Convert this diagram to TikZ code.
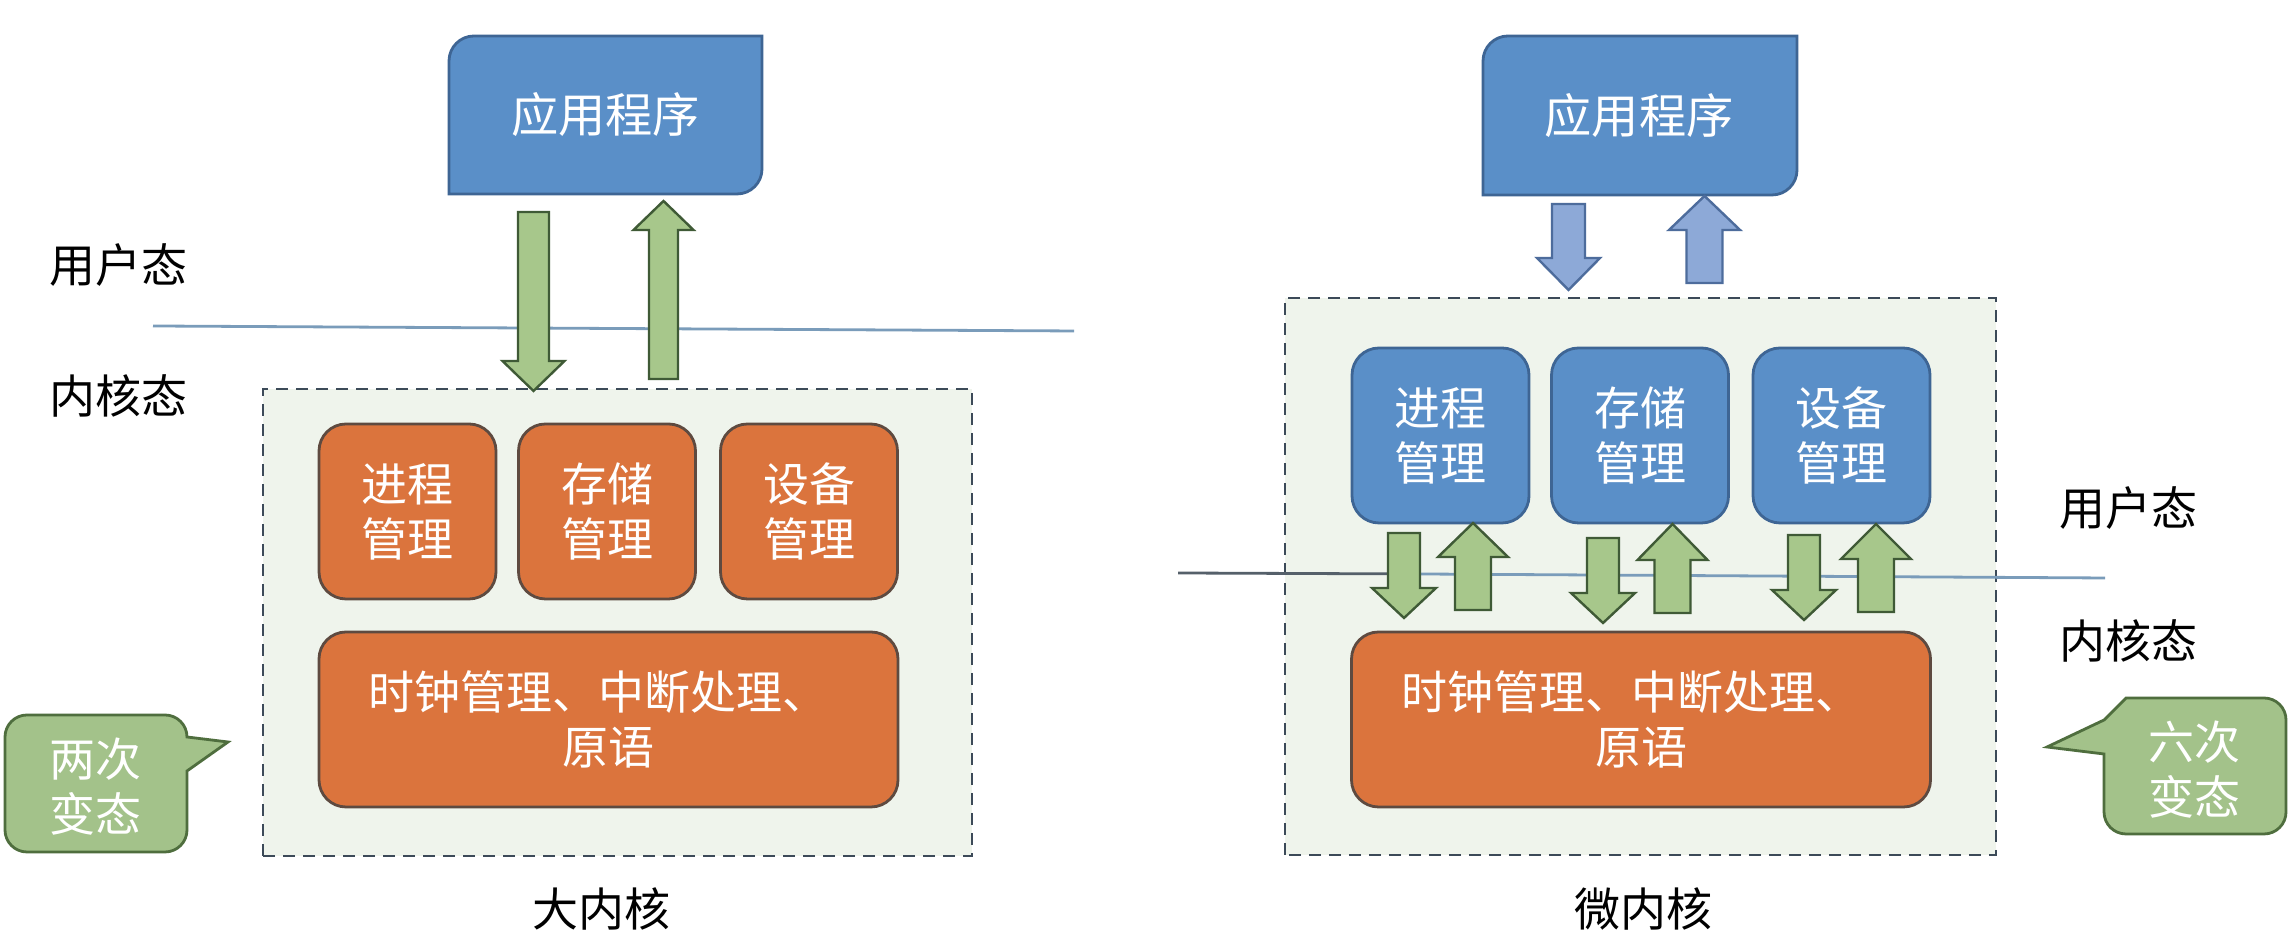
\documentclass[tikz,border=0pt]{standalone}
\usepackage{fontspec}
\setmainfont{Noto Sans CJK SC}
\definecolor{appblue}{HTML}{5A8FC8}
\definecolor{appedge}{HTML}{3E6594}
\definecolor{orng}{HTML}{DB743D}
\definecolor{orngedge}{HTML}{5E4A40}
\definecolor{grn}{HTML}{A7C78B}
\definecolor{grnedge}{HTML}{3F5A36}
\definecolor{barrow}{HTML}{8DA9D7}
\definecolor{barrowedge}{HTML}{4D6C9C}
\definecolor{panel}{HTML}{EFF4EC}
\definecolor{paneledge}{HTML}{3C4A58}
\definecolor{bubblefill}{HTML}{A3C28A}
\definecolor{bubbleedge}{HTML}{4F6E3E}
\definecolor{sepblue}{HTML}{7A9CBA}
\definecolor{sepgray}{HTML}{55606A}
\newcommand\blkarrow[7]{%
  \draw[#7] (#1-#5,#2) -- (#1+#5,#2) -- (#1+#5,#3) -- (#1+#6,#3) -- (#1,#4)
    -- (#1-#6,#3) -- (#1-#5,#3) -- cycle;}
\tikzset{
  txt/.style={font=\fontsize{11.5pt}{13.75pt}\selectfont, align=center, inner sep=0pt},
  wtxt/.style={txt, text=white},
  kbox/.style={wtxt, rounded corners=6.75pt, line width=0.7pt, minimum width=44.25pt, minimum height=43.75pt},
  obox/.style={kbox, fill=orng, draw=orngedge},
  bbox/.style={kbox, fill=appblue, draw=appedge},
  bigbox/.style={wtxt, rounded corners=6.75pt, line width=0.7pt, fill=orng, draw=orngedge, minimum width=144.75pt, minimum height=43.75pt},
  panelbox/.style={fill=panel, draw=paneledge, line width=0.6pt, dash pattern=on 3pt off 2pt},
  appshape/.style={fill=appblue, draw=appedge, line width=0.7pt},
  garrow/.style={fill=grn, draw=grnedge, line width=0.6pt},
  barrowst/.style={fill=barrow, draw=barrowedge, line width=0.6pt},
  bubst/.style={fill=bubblefill, draw=bubbleedge, line width=0.7pt},
  sep/.style={line width=0.7pt},
}
\begin{document}
\begin{tikzpicture}[x=0.25pt,y=0.25pt]
\useasboundingbox (0,0) rectangle (2288,949);
\fill[white] (0,0) rectangle (2288,949);

% ===== left: big kernel =====
\draw[panelbox] (263,93) rectangle (972,560);
\draw[sep, sepblue] (153,623) -- (1074,618);
\draw[appshape] (449,755) -- (449,888) arc[start angle=180,end angle=90,radius=25]
  -- (762,913) -- (762,780) arc[start angle=0,end angle=-90,radius=25] -- cycle;
\node[wtxt, font=\fontsize{11.8pt}{13.75pt}\selectfont] (appL) at (605.5,834) {应用程序};
\blkarrow{533.5}{737}{588}{558}{15.5}{31}{garrow}
\blkarrow{663.5}{570}{719}{748}{14.5}{30}{garrow}
\node[obox] (pL) at (407.5,437.5) {进程\\管理};
\node[obox] (mL) at (607,437.5) {存储\\管理};
\node[obox] (dL) at (809,437.5) {设备\\管理};
\node[bigbox] (cL) at (608.5,229.5) {时钟管理、中断处理、\hspace*{5pt}\\原语};
\node[txt] (uL) at (119,684) {用户态};
\node[txt] (kL) at (119,553) {内核态};
\node[txt] (tL) at (601,40) {大内核};
\draw[bubst] (27,234) -- (165,234) arc[start angle=90,end angle=0,radius=22]
  -- (187,212) -- (228,207) -- (187,178) -- (187,119) arc[start angle=0,end angle=-90,radius=22]
  -- (27,97) arc[start angle=270,end angle=180,radius=22] -- (5,212) arc[start angle=180,end angle=90,radius=22] -- cycle;
\node[wtxt] (bL) at (96,162) {两次\\变态};

% ===== right: micro kernel =====
\draw[panelbox] (1285,94) rectangle (1996,651);
\draw[sep, sepgray] (1178,376) -- (1420,375);
\draw[sep, sepblue] (1420,375) -- (2105,371);
\draw[appshape] (1483,754) -- (1483,888) arc[start angle=180,end angle=90,radius=25]
  -- (1797,913) -- (1797,779) arc[start angle=0,end angle=-90,radius=25] -- cycle;
\node[wtxt, font=\fontsize{11.8pt}{13.75pt}\selectfont] (appR) at (1639,833) {应用程序};
\blkarrow{1568.5}{745}{691}{659}{16.5}{31.5}{barrowst}
\blkarrow{1704.5}{666}{719}{753}{18}{35.5}{barrowst}
\node[bbox] (pR) at (1440.5,513.5) {进程\\管理};
\node[bbox] (mR) at (1640,513.5) {存储\\管理};
\node[bbox] (dR) at (1841.5,513.5) {设备\\管理};
\blkarrow{1404}{416}{361}{331}{16}{32}{garrow}
\blkarrow{1473}{339}{392}{426}{18}{35}{garrow}
\blkarrow{1603}{411}{356}{326}{16}{32}{garrow}
\blkarrow{1672.5}{336}{389}{425}{18}{35}{garrow}
\blkarrow{1804}{414}{359}{329}{16}{32}{garrow}
\blkarrow{1876}{337}{390}{425}{18}{35}{garrow}
\node[bigbox] (cR) at (1641,229.5) {时钟管理、中断处理、\hspace*{5pt}\\原语};
\node[txt] (uR) at (2128,441) {用户态};
\node[txt] (kR) at (2128,308) {内核态};
\node[txt] (tR) at (1643,40) {微内核};
\draw[bubst] (2126,251) -- (2264,251) arc[start angle=90,end angle=0,radius=22]
  -- (2286,137) arc[start angle=0,end angle=-90,radius=22]
  -- (2126,115) arc[start angle=270,end angle=180,radius=22]
  -- (2104,195) -- (2047,202) -- (2104,229) -- cycle;
\node[wtxt] (bR) at (2194,179) {六次\\变态};
\end{tikzpicture}
\end{document}
